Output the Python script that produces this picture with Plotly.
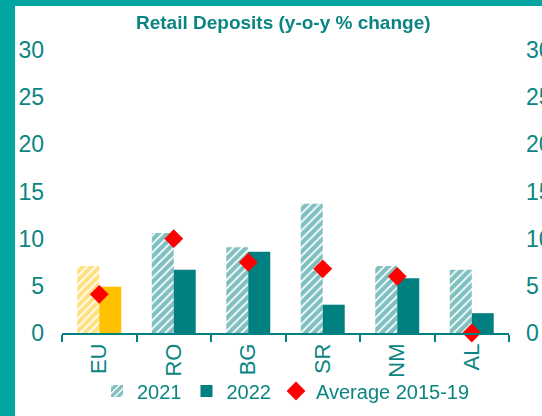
import plotly.graph_objects as go

categories = ["EU", "RO", "BG", "SR", "NM", "AL"]
v2021 = [7.1, 10.6, 9.1, 13.7, 7.1, 6.7]
v2022 = [4.9, 6.7, 8.6, 3.0, 5.8, 2.1]
avg_2015_19 = [4.1, 10.0, 7.5, 6.8, 6.0, 0.0]
y_ticks = [0, 5, 10, 15, 20, 25, 30]

TEAL = "#008080"
TEXT = "#0A8582"
GOLD = "#FFC000"
RED = "#FF0000"
BAND = "#03A5A3"

W, H = 542, 416
ML, MR, MT, MB = 62, 33, 50, 83
PW, PH = W - ML - MR, H - MT - MB

font_family = "Liberation Sans, Arial, sans-serif"

fig = go.Figure()

fig.add_trace(go.Bar(
    name="2021", x=categories[1:], y=v2021[1:], offsetgroup="a",
    marker=dict(color="white", line=dict(width=0),
                pattern=dict(shape="/", fgcolor=TEAL, bgcolor="white", size=6, solidity=0.7)),
))
fig.add_trace(go.Bar(
    name="2022", x=categories[1:], y=v2022[1:], offsetgroup="b",
    marker=dict(color=TEAL, line=dict(width=0)),
))
fig.add_trace(go.Bar(
    name="2021", x=categories[:1], y=v2021[:1], offsetgroup="a", showlegend=False,
    marker=dict(color="white", line=dict(width=0),
                pattern=dict(shape="/", fgcolor=GOLD, bgcolor="white", size=6, solidity=0.7)),
))
fig.add_trace(go.Bar(
    name="2022", x=categories[:1], y=v2022[:1], offsetgroup="b", showlegend=False,
    marker=dict(color=GOLD, line=dict(width=0)),
))
fig.add_trace(go.Scatter(
    name="Average 2015-19", x=categories, y=avg_2015_19, mode="markers",
    marker=dict(symbol="diamond", color=RED, size=14.5, line=dict(width=0)),
    cliponaxis=False,
))
fig.add_trace(go.Scatter(
    x=categories, y=avg_2015_19, yaxis="y2", mode="markers", opacity=0,
    showlegend=False, hoverinfo="skip",
))

shapes = [
    dict(type="rect", xref="paper", yref="paper", layer="above",
         x0=-ML / PW - 0.01, x1=(15 - ML) / PW, y0=-MB / PH - 0.01, y1=1 + MT / PH + 0.01,
         fillcolor=BAND, line=dict(width=0)),
    dict(type="rect", xref="paper", yref="paper", layer="above",
         x0=-ML / PW - 0.01, x1=1 + MR / PW + 0.01, y0=1 + (MT - 6) / PH, y1=1 + MT / PH + 0.01,
         fillcolor=BAND, line=dict(width=0)),
]

fig.update_layout(
    width=W, height=H,
    margin=dict(l=ML, r=MR, t=MT, b=MB, autoexpand=False),
    paper_bgcolor="white", plot_bgcolor="white",
    barmode="group", bargap=0.41, bargroupgap=0,
    font=dict(family=font_family, color=TEXT),
    title=dict(text="<b>Retail Deposits (y-o-y % change)</b>",
               font=dict(size=19, color=TEXT, family=font_family),
               x=0.495, xref="paper", xanchor="center",
               y=1 - 22 / H, yref="container", yanchor="middle"),
    xaxis=dict(type="category", categoryorder="array", categoryarray=categories,
               showline=True, linecolor=TEAL, linewidth=1.5, automargin=False,
               ticks="outside", tickson="boundaries", ticklen=7, tickcolor=TEAL, tickwidth=1.5,
               tickangle=-90, tickfont=dict(size=22, color=TEXT), showgrid=False, zeroline=False),
    yaxis=dict(range=[0, 30], tickvals=y_ticks, showgrid=False, zeroline=False, showline=False,
               automargin=False, tickfont=dict(size=23, color=TEXT), ticklabelstandoff=17),
    yaxis2=dict(range=[0, 30], tickvals=y_ticks, overlaying="y", side="right", anchor="x",
                showgrid=False, zeroline=False, showline=False, automargin=False,
                tickfont=dict(size=23, color=TEXT), ticklabelstandoff=16),
    legend=dict(orientation="h", x=97 / W, xanchor="left", xref="container",
                y=1 - 391 / H, yanchor="middle", yref="container",
                font=dict(size=20, color=TEXT), bgcolor="rgba(0,0,0,0)"),
    shapes=shapes,
    showlegend=True,
)

fig.write_html("out.html", config={"displayModeBar": False},
               post_script="document.body.style.margin='0';")
